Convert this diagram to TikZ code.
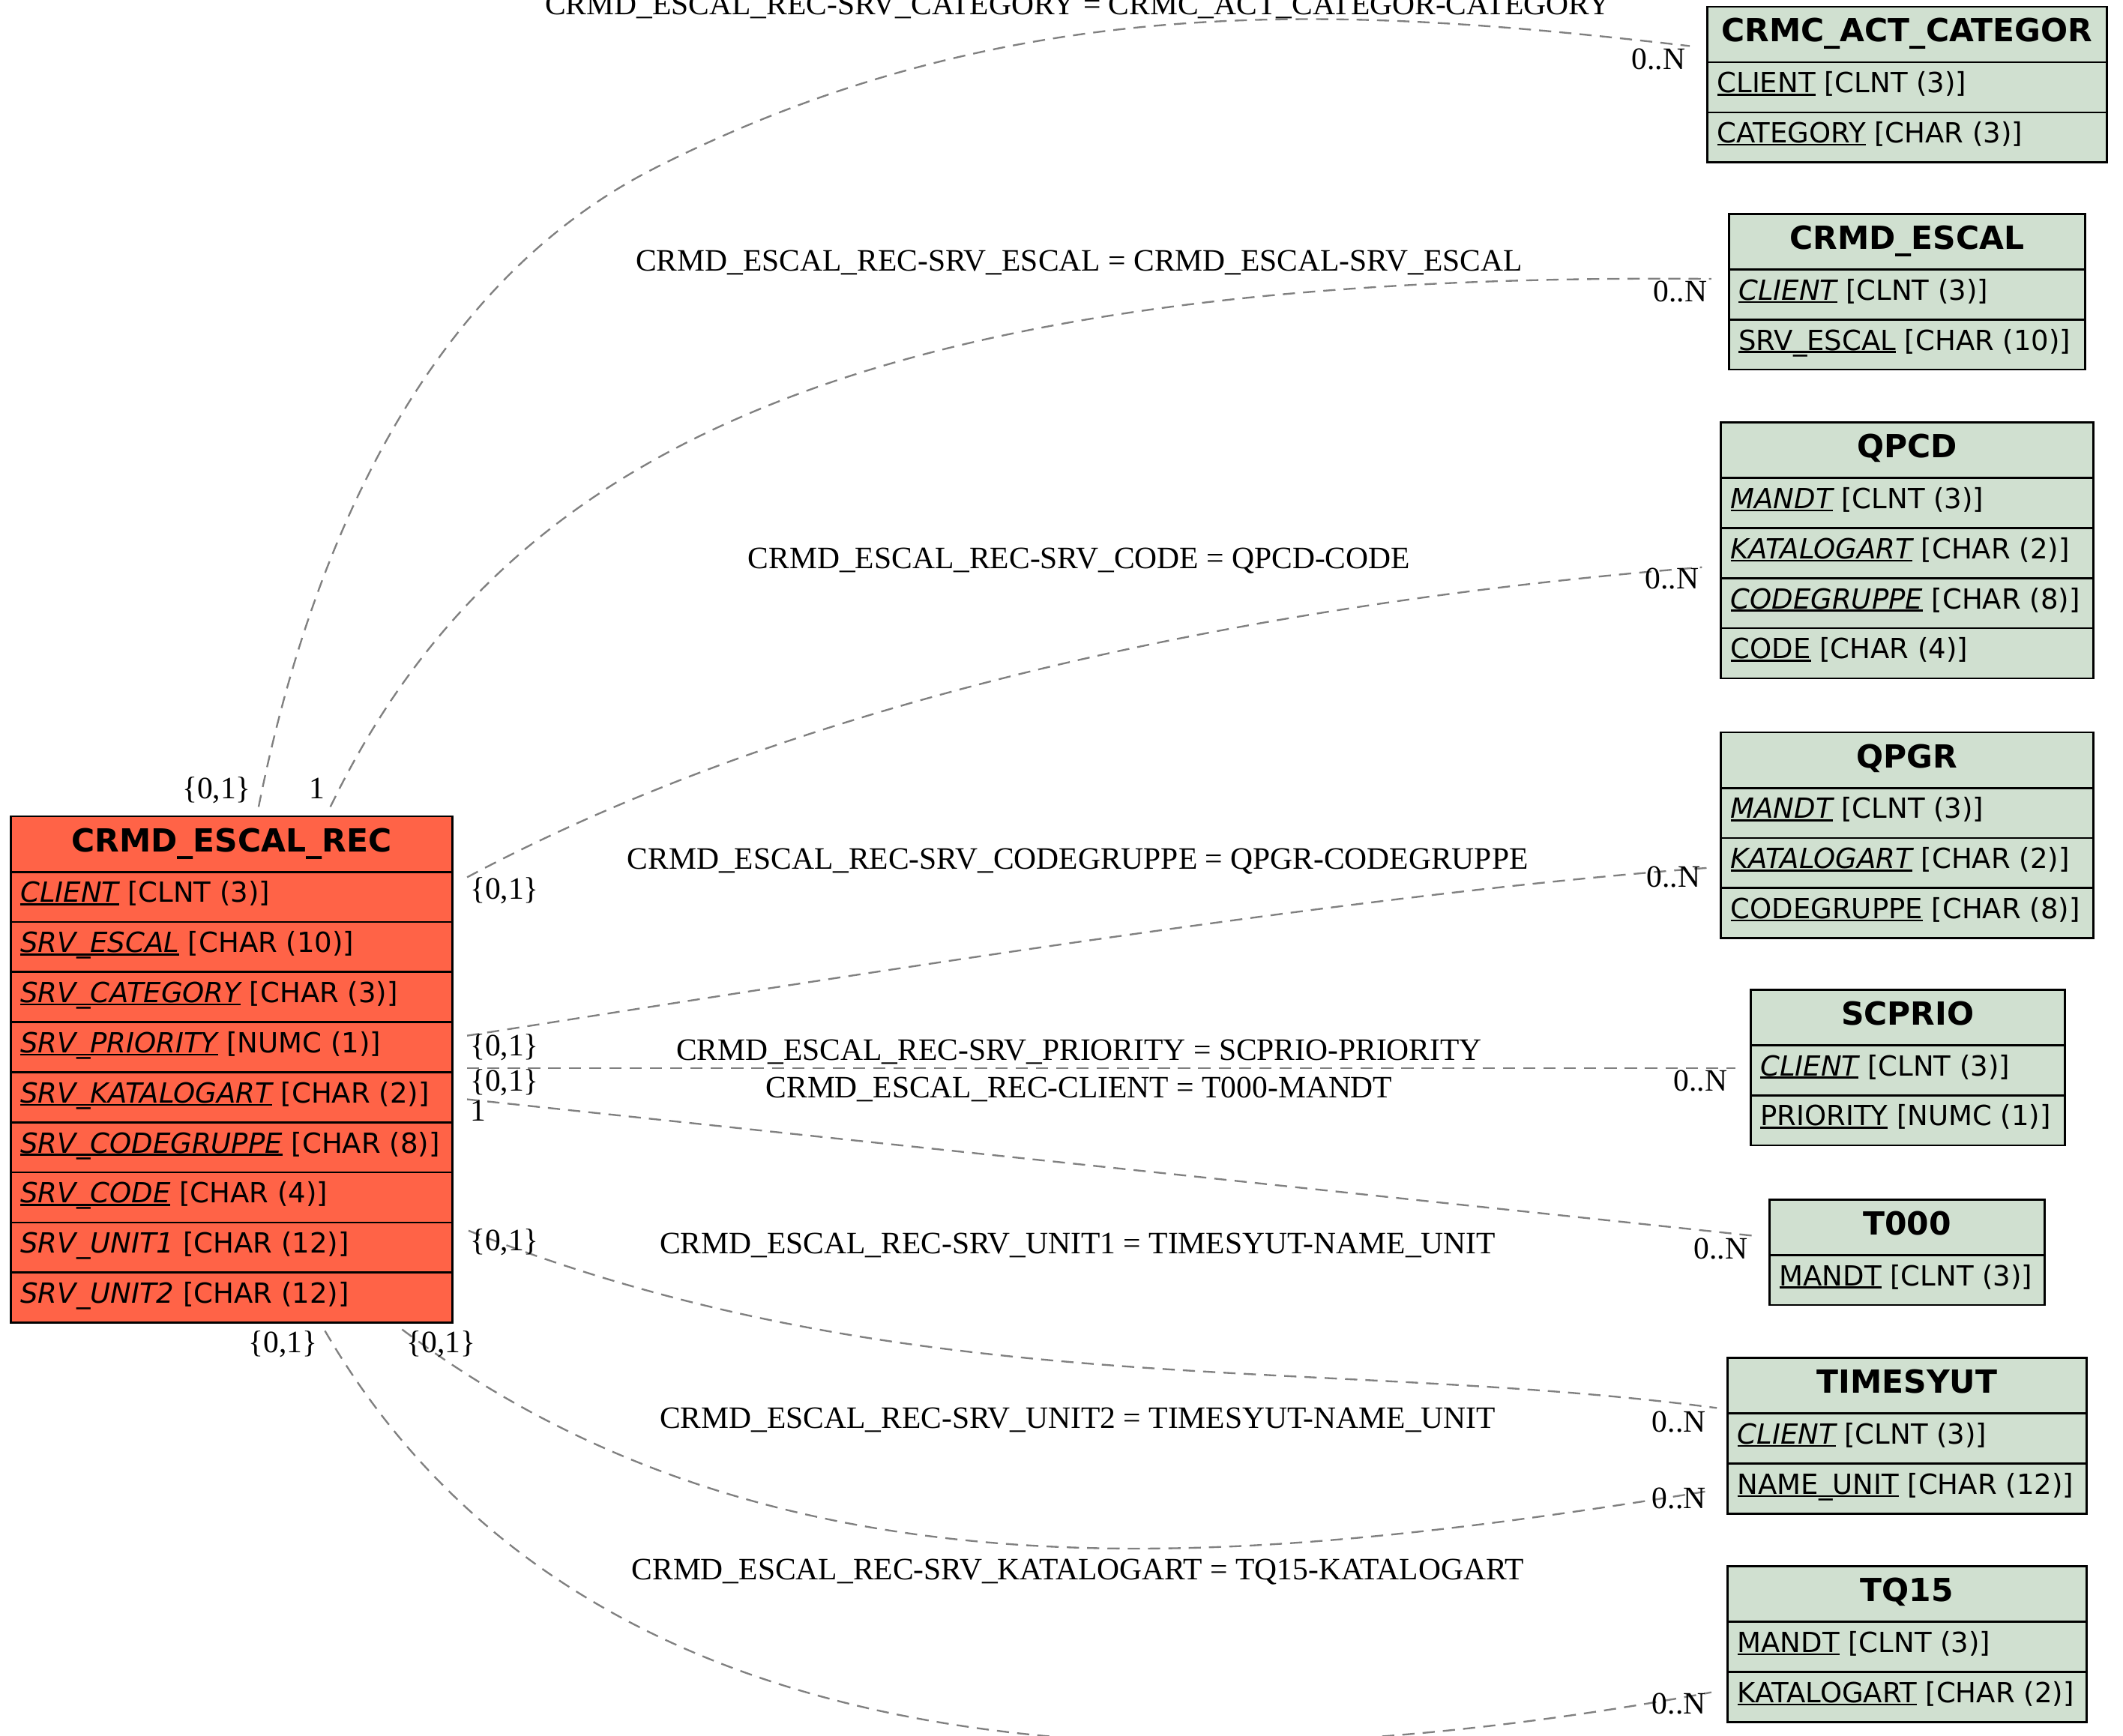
\documentclass[tikz,border=0pt]{standalone}
\usepackage{fontspec}
\newfontfamily\entfont{DejaVu Sans}
\newfontfamily\lblfont{Liberation Serif}
\usetikzlibrary{fit}
\definecolor{recfill}{HTML}{FF6347}
\definecolor{entfill}{HTML}{D0E0D0}
\definecolor{edgegray}{HTML}{808080}
\newcommand\ulk[1]{\setbox0\hbox{#1}\rlap{\rule[-0.1em]{\wd0}{0.065em}}\box0{}}
\newcommand\ulki[1]{\ulk{\itshape #1}}
\tikzset{
  entbox/.style={draw=black, line width=1.5pt, inner sep=0pt},
  sepline/.style={draw=black, line width=1.5pt},
  hdr/.style={font=\entfont\bfseries\fontsize{23.5}{28}\selectfont, anchor=base, inner sep=0pt},
  fld/.style={font=\entfont\fontsize{20.5}{24}\selectfont, anchor=base west, inner sep=0pt},
  rel/.style={draw=edgegray, line width=1.3pt, dash pattern=on 9pt off 6pt},
  lbl/.style={font=\lblfont\fontsize{23}{28}\selectfont, inner sep=0pt},
}
% #1 name, #2 x1, #3 y1, #4 x2, #5 rows, #6 fill, #7 title
\newcommand\ent[7]{%
  \def\en{#1}\def\ex{#2}\def\ey{#3}\def\exx{#4}%
  \node[entbox, fill=#6, fit={(#2,#3) (#4,{#3+41+37*#5})}] (#1) {};
  \node[hdr] (#1-title) at ({(#2+#4)/2},{#3+26}) {#7};
}
\newcommand\frow[2]{%
  \draw[sepline] (\ex,{\ey+4+37*#1}) -- (\exx,{\ey+4+37*#1});
  \node[fld] (\en-f#1) at ({\ex+7},{\ey+4+37*#1+22.6}) {#2};
}
\begin{document}
\begin{tikzpicture}[x=1pt,y=-1pt]
\useasboundingbox (0,0) rectangle (1568,1282.3);
\fill[white] (0,0) rectangle (1568,1282.3);

% ---------- relationship lines ----------
\coordinate (e1s) at (191,596);  \coordinate (e1t) at (1248,34);
\coordinate (e2s) at (244,596);  \coordinate (e2t) at (1264,206);
\coordinate (e3s) at (345,648);  \coordinate (e3t) at (1257,419);
\coordinate (e4s) at (345,765);  \coordinate (e4t) at (1262,641);
\coordinate (e5s) at (345,789);  \coordinate (e5t) at (1282,789);
\coordinate (e6s) at (345,812);  \coordinate (e6t) at (1297,913);
\coordinate (e7s) at (346,909);  \coordinate (e7t) at (1268,1040);
\coordinate (e8s) at (297,982);  \coordinate (e8t) at (1264,1101);
\coordinate (e9s) at (240,983);  \coordinate (e9t) at (1264,1250);

\draw[rel] (e1s) .. controls (233,386) and (324,205) .. (484,124) .. controls (751,-11) and (997,5) .. (e1t);
\draw[rel] (e2s) .. controls (366,344) and (614,200) .. (e2t);
\draw[rel] (e3s) .. controls (609,507) and (957,443) .. (e3t);
\draw[rel] (e4s) .. controls (600,725) and (1000,660) .. (e4t);
\draw[rel] (e5s) -- (e5t);
\draw[rel] (e6s) -- (e6t);
\draw[rel] (e7s) .. controls (671,1038) and (971,1001) .. (e7t);
\draw[rel] (e8s) .. controls (577,1192) and (918,1157) .. (e8t);
\draw[rel] (e9s) .. controls (430,1310) and (852,1326) .. (e9t);

% ---------- relationship labels ----------
\node[lbl, anchor=base] (l1) at (796,11) {CRMD\_ESCAL\_REC-SRV\_CATEGORY = CRMC\_ACT\_CATEGOR-CATEGORY};
\node[lbl, anchor=base] (l2) at (797,200) {CRMD\_ESCAL\_REC-SRV\_ESCAL = CRMD\_ESCAL-SRV\_ESCAL};
\node[lbl, anchor=base] (l3) at (797,420) {CRMD\_ESCAL\_REC-SRV\_CODE = QPCD-CODE};
\node[lbl, anchor=base] (l4) at (796,642) {CRMD\_ESCAL\_REC-SRV\_CODEGRUPPE = QPGR-CODEGRUPPE};
\node[lbl, anchor=base] (l5) at (797,783) {CRMD\_ESCAL\_REC-SRV\_PRIORITY = SCPRIO-PRIORITY};
\node[lbl, anchor=base] (l6) at (797,811) {CRMD\_ESCAL\_REC-CLIENT = T000-MANDT};
\node[lbl, anchor=base] (l7) at (796,926) {CRMD\_ESCAL\_REC-SRV\_UNIT1 = TIMESYUT-NAME\_UNIT};
\node[lbl, anchor=base] (l8) at (796,1055) {CRMD\_ESCAL\_REC-SRV\_UNIT2 = TIMESYUT-NAME\_UNIT};
\node[lbl, anchor=base] (l9) at (796,1167) {CRMD\_ESCAL\_REC-SRV\_KATALOGART = TQ15-KATALOGART};

% source cardinalities
\node[lbl, anchor=base] (c1s) at (160,590) {\{0,1\}};
\node[lbl, anchor=base] (c2s) at (234,590) {1};
\node[lbl, anchor=base west] (c3s) at (347,664) {\{0,1\}};
\node[lbl, anchor=base west] (c4s) at (347,780) {\{0,1\}};
\node[lbl, anchor=base west] (c5s) at (347,806) {\{0,1\}};
\node[lbl, anchor=base west] (c6s) at (347,828) {1};
\node[lbl, anchor=base west] (c7s) at (347,924) {\{0,1\}};
\node[lbl, anchor=base] (c8s) at (326,999) {\{0,1\}};
\node[lbl, anchor=base] (c9s) at (209,999) {\{0,1\}};
% target cardinalities
\node[lbl, anchor=base] (c1t) at (1225,51) {0..N};
\node[lbl, anchor=base] (c2t) at (1241,223) {0..N};
\node[lbl, anchor=base] (c3t) at (1235,435) {0..N};
\node[lbl, anchor=base] (c4t) at (1236,655) {0..N};
\node[lbl, anchor=base] (c5t) at (1256,806) {0..N};
\node[lbl, anchor=base] (c6t) at (1271,930) {0..N};
\node[lbl, anchor=base] (c7t) at (1240,1058) {0..N};
\node[lbl, anchor=base] (c8t) at (1240,1114) {0..N};
\node[lbl, anchor=base] (c9t) at (1240,1266) {0..N};

% ---------- entities ----------
\ent{crmc}{1261}{5}{1556}{2}{entfill}{CRMC\_ACT\_CATEGOR}
\frow{1}{\ulk{CLIENT} [CLNT (3)]}
\frow{2}{\ulk{CATEGORY} [CHAR (3)]}

\ent{escal}{1277}{158}{1540}{2}{entfill}{CRMD\_ESCAL}
\frow{1}{\ulki{CLIENT} [CLNT (3)]}
\frow{2}{\ulk{SRV\_ESCAL} [CHAR (10)]}

\ent{qpcd}{1271}{312}{1546}{4}{entfill}{QPCD}
\frow{1}{\ulki{MANDT} [CLNT (3)]}
\frow{2}{\ulki{KATALOGART} [CHAR (2)]}
\frow{3}{\ulki{CODEGRUPPE} [CHAR (8)]}
\frow{4}{\ulk{CODE} [CHAR (4)]}

\ent{qpgr}{1271}{541}{1546}{3}{entfill}{QPGR}
\frow{1}{\ulki{MANDT} [CLNT (3)]}
\frow{2}{\ulki{KATALOGART} [CHAR (2)]}
\frow{3}{\ulk{CODEGRUPPE} [CHAR (8)]}

\ent{scprio}{1293}{731}{1525}{2}{entfill}{SCPRIO}
\frow{1}{\ulki{CLIENT} [CLNT (3)]}
\frow{2}{\ulk{PRIORITY} [NUMC (1)]}

\ent{tzero}{1307}{886}{1510}{1}{entfill}{T000}
\frow{1}{\ulk{MANDT} [CLNT (3)]}

\ent{timesyut}{1276}{1003}{1541}{2}{entfill}{TIMESYUT}
\frow{1}{\ulki{CLIENT} [CLNT (3)]}
\frow{2}{\ulk{NAME\_UNIT} [CHAR (12)]}

\ent{tq}{1276}{1157}{1541}{2}{entfill}{TQ15}
\frow{1}{\ulk{MANDT} [CLNT (3)]}
\frow{2}{\ulk{KATALOGART} [CHAR (2)]}

\ent{rec}{8}{603}{334}{9}{recfill}{CRMD\_ESCAL\_REC}
\frow{1}{\ulki{CLIENT} [CLNT (3)]}
\frow{2}{\ulki{SRV\_ESCAL} [CHAR (10)]}
\frow{3}{\ulki{SRV\_CATEGORY} [CHAR (3)]}
\frow{4}{\ulki{SRV\_PRIORITY} [NUMC (1)]}
\frow{5}{\ulki{SRV\_KATALOGART} [CHAR (2)]}
\frow{6}{\ulki{SRV\_CODEGRUPPE} [CHAR (8)]}
\frow{7}{\ulki{SRV\_CODE} [CHAR (4)]}
\frow{8}{{\itshape SRV\_UNIT1} [CHAR (12)]}
\frow{9}{{\itshape SRV\_UNIT2} [CHAR (12)]}
\end{tikzpicture}
\end{document}
